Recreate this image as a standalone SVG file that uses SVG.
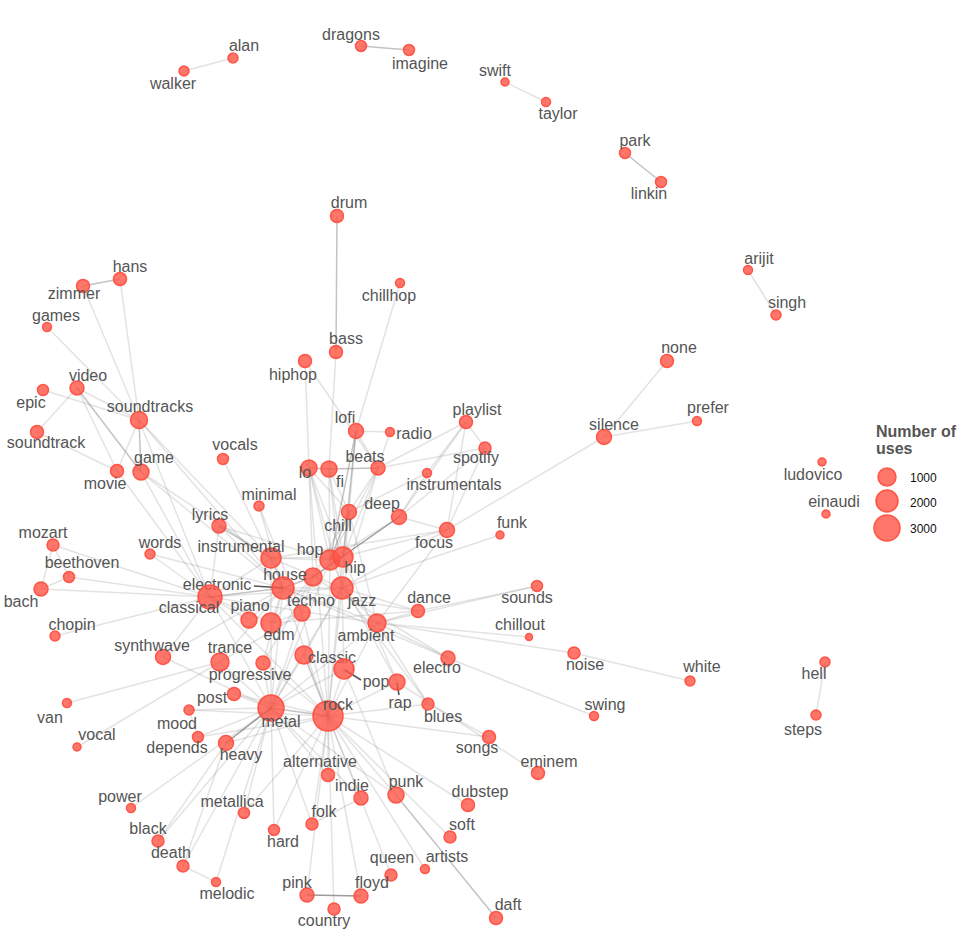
<svg xmlns="http://www.w3.org/2000/svg" width="962" height="944" viewBox="0 0 962 944">
<style>
.l{stroke:#999;stroke-opacity:0.28;stroke-width:1.5;fill:none}
.m{stroke:#888;stroke-opacity:0.5;stroke-width:1.5;fill:none}
.d{stroke:#666;stroke-opacity:0.65;stroke-width:1.5;fill:none}
.k{stroke:#555;stroke-width:1.6;fill:none}
circle{fill:#ff5446;fill-opacity:0.8;stroke:#ff4a3c;stroke-width:1.5;stroke-opacity:0.9}
text{font-family:"Liberation Sans",Arial,sans-serif;font-size:16px;fill:#555;text-anchor:middle}
.lt{font-weight:bold;font-size:16px;text-anchor:start}
.ln{font-size:12px;fill:#111;text-anchor:start}
</style>
<rect width="962" height="944" fill="#fff"/>
<g id="connectors">
<g class="l">
<line x1="233" y1="58" x2="184" y2="71"/>
<line x1="505" y1="82" x2="546" y2="102"/>
<line x1="748" y1="270" x2="776" y2="315"/>
<line x1="825" y1="662" x2="816" y2="715"/>
<line x1="400" y1="283" x2="356" y2="431"/>
<line x1="120" y1="279" x2="139" y2="420"/>
<line x1="83" y1="286" x2="139" y2="420"/>
<line x1="47" y1="327" x2="139" y2="420"/>
<line x1="43" y1="390" x2="139" y2="420"/>
<line x1="77" y1="388" x2="139" y2="420"/>
<line x1="77" y1="388" x2="37" y2="432"/>
<line x1="77" y1="388" x2="117" y2="471"/>
<line x1="37" y1="432" x2="117" y2="471"/>
<line x1="139" y1="420" x2="117" y2="471"/>
<line x1="139" y1="420" x2="271" y2="558"/>
<line x1="139" y1="420" x2="210" y2="597"/>
<line x1="139" y1="420" x2="283" y2="588"/>
<line x1="141" y1="472" x2="271" y2="558"/>
<line x1="141" y1="472" x2="210" y2="597"/>
<line x1="117" y1="471" x2="210" y2="597"/>
<line x1="141" y1="472" x2="283" y2="588"/>
<line x1="223" y1="459" x2="271" y2="558"/>
<line x1="259" y1="506" x2="302" y2="613"/>
<line x1="259" y1="506" x2="283" y2="588"/>
<line x1="219" y1="526" x2="210" y2="597"/>
<line x1="219" y1="526" x2="283" y2="588"/>
<line x1="219" y1="526" x2="330" y2="560"/>
<line x1="150" y1="554" x2="283" y2="588"/>
<line x1="150" y1="554" x2="210" y2="597"/>
<line x1="53" y1="545" x2="41" y2="589"/>
<line x1="53" y1="545" x2="69" y2="577"/>
<line x1="41" y1="589" x2="69" y2="577"/>
<line x1="53" y1="545" x2="210" y2="597"/>
<line x1="69" y1="577" x2="210" y2="597"/>
<line x1="41" y1="589" x2="210" y2="597"/>
<line x1="55" y1="636" x2="210" y2="597"/>
<line x1="249" y1="620" x2="210" y2="597"/>
<line x1="271" y1="558" x2="210" y2="597"/>
<line x1="271" y1="558" x2="343" y2="557"/>
<line x1="271" y1="558" x2="330" y2="560"/>
<line x1="271" y1="558" x2="342" y2="588"/>
<line x1="271" y1="558" x2="271" y2="708"/>
<line x1="356" y1="431" x2="390" y2="432"/>
<line x1="356" y1="431" x2="349" y2="512"/>
<line x1="356" y1="431" x2="378" y2="468"/>
<line x1="390" y1="432" x2="378" y2="468"/>
<line x1="309" y1="468" x2="330" y2="560"/>
<line x1="309" y1="468" x2="343" y2="557"/>
<line x1="329" y1="469" x2="330" y2="560"/>
<line x1="329" y1="469" x2="343" y2="557"/>
<line x1="309" y1="468" x2="349" y2="512"/>
<line x1="329" y1="469" x2="349" y2="512"/>
<line x1="309" y1="468" x2="342" y2="588"/>
<line x1="329" y1="469" x2="342" y2="588"/>
<line x1="309" y1="468" x2="328" y2="716"/>
<line x1="309" y1="468" x2="313" y2="577"/>
<line x1="305" y1="361" x2="378" y2="468"/>
<line x1="305" y1="361" x2="309" y2="468"/>
<line x1="336" y1="352" x2="329" y2="469"/>
<line x1="378" y1="468" x2="466" y2="422"/>
<line x1="378" y1="468" x2="485" y2="448"/>
<line x1="378" y1="468" x2="330" y2="560"/>
<line x1="378" y1="468" x2="343" y2="557"/>
<line x1="378" y1="468" x2="349" y2="512"/>
<line x1="378" y1="468" x2="342" y2="588"/>
<line x1="466" y1="422" x2="485" y2="448"/>
<line x1="466" y1="422" x2="447" y2="530"/>
<line x1="466" y1="422" x2="427" y2="473"/>
<line x1="466" y1="422" x2="399" y2="517"/>
<line x1="485" y1="448" x2="447" y2="530"/>
<line x1="485" y1="448" x2="399" y2="517"/>
<line x1="427" y1="473" x2="399" y2="517"/>
<line x1="427" y1="473" x2="349" y2="512"/>
<line x1="399" y1="517" x2="447" y2="530"/>
<line x1="399" y1="517" x2="330" y2="560"/>
<line x1="447" y1="530" x2="330" y2="560"/>
<line x1="447" y1="530" x2="342" y2="588"/>
<line x1="447" y1="530" x2="271" y2="558"/>
<line x1="447" y1="530" x2="377" y2="623"/>
<line x1="604" y1="437" x2="667" y2="361"/>
<line x1="604" y1="437" x2="697" y2="421"/>
<line x1="604" y1="437" x2="447" y2="530"/>
<line x1="500" y1="535" x2="342" y2="588"/>
<line x1="349" y1="512" x2="313" y2="577"/>
<line x1="349" y1="512" x2="342" y2="588"/>
<line x1="349" y1="512" x2="377" y2="623"/>
<line x1="349" y1="512" x2="343" y2="557"/>
<line x1="343" y1="557" x2="397" y2="682"/>
<line x1="330" y1="560" x2="397" y2="682"/>
<line x1="343" y1="557" x2="328" y2="716"/>
<line x1="330" y1="560" x2="328" y2="716"/>
<line x1="330" y1="560" x2="271" y2="708"/>
<line x1="313" y1="577" x2="302" y2="613"/>
<line x1="313" y1="577" x2="271" y2="623"/>
<line x1="313" y1="577" x2="263" y2="663"/>
<line x1="283" y1="588" x2="271" y2="623"/>
<line x1="283" y1="588" x2="302" y2="613"/>
<line x1="283" y1="588" x2="418" y2="611"/>
<line x1="283" y1="588" x2="220" y2="662"/>
<line x1="283" y1="588" x2="163" y2="657"/>
<line x1="283" y1="588" x2="263" y2="663"/>
<line x1="283" y1="588" x2="377" y2="623"/>
<line x1="283" y1="588" x2="328" y2="716"/>
<line x1="283" y1="588" x2="271" y2="708"/>
<line x1="283" y1="588" x2="249" y2="620"/>
<line x1="283" y1="588" x2="342" y2="588"/>
<line x1="283" y1="588" x2="448" y2="658"/>
<line x1="210" y1="597" x2="342" y2="588"/>
<line x1="210" y1="597" x2="328" y2="716"/>
<line x1="210" y1="597" x2="271" y2="708"/>
<line x1="210" y1="597" x2="163" y2="657"/>
<line x1="210" y1="597" x2="271" y2="623"/>
<line x1="210" y1="597" x2="377" y2="623"/>
<line x1="342" y1="588" x2="428" y2="704"/>
<line x1="342" y1="588" x2="328" y2="716"/>
<line x1="342" y1="588" x2="377" y2="623"/>
<line x1="342" y1="588" x2="271" y2="708"/>
<line x1="342" y1="588" x2="344" y2="669"/>
<line x1="342" y1="588" x2="418" y2="611"/>
<line x1="342" y1="588" x2="304" y2="655"/>
<line x1="302" y1="613" x2="271" y2="623"/>
<line x1="302" y1="613" x2="220" y2="662"/>
<line x1="302" y1="613" x2="328" y2="716"/>
<line x1="302" y1="613" x2="271" y2="708"/>
<line x1="377" y1="623" x2="529" y2="637"/>
<line x1="377" y1="623" x2="574" y2="653"/>
<line x1="377" y1="623" x2="418" y2="611"/>
<line x1="377" y1="623" x2="448" y2="658"/>
<line x1="377" y1="623" x2="537" y2="586"/>
<line x1="377" y1="623" x2="328" y2="716"/>
<line x1="377" y1="623" x2="271" y2="708"/>
<line x1="377" y1="623" x2="428" y2="704"/>
<line x1="418" y1="611" x2="537" y2="586"/>
<line x1="418" y1="611" x2="271" y2="623"/>
<line x1="448" y1="658" x2="594" y2="716"/>
<line x1="448" y1="658" x2="313" y2="577"/>
<line x1="344" y1="669" x2="328" y2="716"/>
<line x1="344" y1="669" x2="396" y2="795"/>
<line x1="344" y1="669" x2="271" y2="708"/>
<line x1="304" y1="655" x2="271" y2="708"/>
<line x1="263" y1="663" x2="328" y2="716"/>
<line x1="263" y1="663" x2="271" y2="708"/>
<line x1="271" y1="708" x2="234" y2="694"/>
<line x1="271" y1="708" x2="183" y2="866"/>
<line x1="271" y1="708" x2="158" y2="841"/>
<line x1="271" y1="708" x2="216" y2="882"/>
<line x1="271" y1="708" x2="131" y2="808"/>
<line x1="271" y1="708" x2="244" y2="813"/>
<line x1="271" y1="708" x2="189" y2="710"/>
<line x1="271" y1="708" x2="198" y2="737"/>
<line x1="271" y1="708" x2="274" y2="830"/>
<line x1="271" y1="708" x2="328" y2="775"/>
<line x1="271" y1="708" x2="396" y2="795"/>
<line x1="271" y1="708" x2="312" y2="824"/>
<line x1="271" y1="708" x2="361" y2="798"/>
<line x1="271" y1="708" x2="220" y2="662"/>
<line x1="271" y1="708" x2="163" y2="657"/>
<line x1="328" y1="716" x2="328" y2="775"/>
<line x1="328" y1="716" x2="361" y2="798"/>
<line x1="328" y1="716" x2="396" y2="795"/>
<line x1="328" y1="716" x2="312" y2="824"/>
<line x1="328" y1="716" x2="274" y2="830"/>
<line x1="328" y1="716" x2="334" y2="909"/>
<line x1="328" y1="716" x2="391" y2="875"/>
<line x1="328" y1="716" x2="361" y2="896"/>
<line x1="328" y1="716" x2="307" y2="895"/>
<line x1="328" y1="716" x2="450" y2="837"/>
<line x1="328" y1="716" x2="468" y2="805"/>
<line x1="328" y1="716" x2="425" y2="869"/>
<line x1="328" y1="716" x2="428" y2="704"/>
<line x1="328" y1="716" x2="234" y2="694"/>
<line x1="328" y1="716" x2="226" y2="743"/>
<line x1="328" y1="716" x2="244" y2="813"/>
<line x1="328" y1="716" x2="189" y2="710"/>
<line x1="328" y1="716" x2="489" y2="737"/>
<line x1="328" y1="716" x2="397" y2="682"/>
<line x1="328" y1="716" x2="198" y2="737"/>
<line x1="226" y1="743" x2="183" y2="866"/>
<line x1="226" y1="743" x2="158" y2="841"/>
<line x1="183" y1="866" x2="216" y2="882"/>
<line x1="361" y1="798" x2="312" y2="824"/>
<line x1="428" y1="704" x2="489" y2="737"/>
<line x1="397" y1="682" x2="538" y2="773"/>
<line x1="189" y1="710" x2="198" y2="737"/>
<line x1="67" y1="703" x2="220" y2="662"/>
<line x1="77" y1="747" x2="220" y2="662"/>
<line x1="574" y1="653" x2="690" y2="681"/>
</g>
<g class="m">
<line x1="361" y1="46" x2="409" y2="50"/>
<line x1="625" y1="153" x2="661" y2="182"/>
<line x1="337" y1="216" x2="336" y2="352"/>
<line x1="120" y1="279" x2="83" y2="286"/>
<line x1="139" y1="420" x2="141" y2="472"/>
<line x1="77" y1="388" x2="141" y2="472"/>
<line x1="309" y1="468" x2="329" y2="469"/>
<line x1="329" y1="469" x2="378" y2="468"/>
<line x1="356" y1="431" x2="343" y2="557"/>
<line x1="356" y1="431" x2="330" y2="560"/>
<line x1="349" y1="512" x2="330" y2="560"/>
<line x1="343" y1="557" x2="330" y2="560"/>
<line x1="283" y1="588" x2="210" y2="597"/>
<line x1="283" y1="588" x2="313" y2="577"/>
<line x1="271" y1="558" x2="283" y2="588"/>
<line x1="271" y1="708" x2="328" y2="716"/>
<line x1="304" y1="655" x2="328" y2="716"/>
<line x1="396" y1="795" x2="496" y2="918"/>
<line x1="219" y1="526" x2="271" y2="558"/>
</g>
<g class="d">
<line x1="226" y1="743" x2="271" y2="708"/>
<line x1="307" y1="895" x2="361" y2="896"/>
<line x1="399" y1="517" x2="313" y2="577"/>
</g>
</g>
<g id="leaders" class="k">
<line x1="254" y1="586" x2="283" y2="588"/>
<line x1="345" y1="670" x2="361" y2="680"/>
<line x1="397" y1="683" x2="399" y2="695"/>
</g>
<g id="nodes">
<g id="n-alan"><circle cx="233" cy="58" r="5"/><text x="244" y="51">alan</text></g>
<g id="n-walker"><circle cx="184" cy="71" r="5"/><text x="173" y="89">walker</text></g>
<g id="n-dragons"><circle cx="361" cy="46" r="5.5"/><text x="351" y="40">dragons</text></g>
<g id="n-imagine"><circle cx="409" cy="50" r="5.5"/><text x="420" y="69">imagine</text></g>
<g id="n-swift"><circle cx="505" cy="82" r="4"/><text x="495" y="76">swift</text></g>
<g id="n-taylor"><circle cx="546" cy="102" r="4.5"/><text x="558" y="119">taylor</text></g>
<g id="n-park"><circle cx="625" cy="153" r="5.5"/><text x="635" y="146">park</text></g>
<g id="n-linkin"><circle cx="661" cy="182" r="5.5"/><text x="649" y="199">linkin</text></g>
<g id="n-drum"><circle cx="337" cy="216" r="6.5"/><text x="349" y="208">drum</text></g>
<g id="n-chillhop"><circle cx="400" cy="283" r="4.5"/><text x="389" y="301">chillhop</text></g>
<g id="n-arijit"><circle cx="748" cy="270" r="4.5"/><text x="759" y="264">arijit</text></g>
<g id="n-singh"><circle cx="776" cy="315" r="5"/><text x="787" y="308">singh</text></g>
<g id="n-hans"><circle cx="120" cy="279" r="6.5"/><text x="130" y="272">hans</text></g>
<g id="n-zimmer"><circle cx="83" cy="286" r="6.5"/><text x="74" y="299">zimmer</text></g>
<g id="n-games"><circle cx="47" cy="327" r="4.5"/><text x="56" y="321">games</text></g>
<g id="n-bass"><circle cx="336" cy="352" r="6.5"/><text x="346" y="344">bass</text></g>
<g id="n-hiphop"><circle cx="305" cy="361" r="6.5"/><text x="293" y="380">hiphop</text></g>
<g id="n-none"><circle cx="667" cy="361" r="6.5"/><text x="679" y="353">none</text></g>
<g id="n-prefer"><circle cx="697" cy="421" r="4.5"/><text x="708" y="413">prefer</text></g>
<g id="n-silence"><circle cx="604" cy="437" r="7.5"/><text x="614" y="430">silence</text></g>
<g id="n-video"><circle cx="77" cy="388" r="7"/><text x="88" y="381">video</text></g>
<g id="n-epic"><circle cx="43" cy="390" r="5.5"/><text x="31" y="408">epic</text></g>
<g id="n-soundtracks"><circle cx="139" cy="420" r="8.5"/><text x="150" y="412">soundtracks</text></g>
<g id="n-soundtrack"><circle cx="37" cy="432" r="6.5"/><text x="46" y="448">soundtrack</text></g>
<g id="n-lofi"><circle cx="356" cy="431" r="7.5"/><text x="345" y="423">lofi</text></g>
<g id="n-radio"><circle cx="390" cy="432" r="4.5"/><text x="414" y="439">radio</text></g>
<g id="n-playlist"><circle cx="466" cy="422" r="6.5"/><text x="477" y="415">playlist</text></g>
<g id="n-spotify"><circle cx="485" cy="448" r="6"/><text x="476" y="463">spotify</text></g>
<g id="n-vocals"><circle cx="223" cy="459" r="5.5"/><text x="235" y="450">vocals</text></g>
<g id="n-lo"><circle cx="309" cy="468" r="8"/><text x="305" y="478">lo</text></g>
<g id="n-fi"><circle cx="329" cy="469" r="8"/><text x="340" y="487">fi</text></g>
<g id="n-beats"><circle cx="378" cy="468" r="7"/><text x="365" y="462">beats</text></g>
<g id="n-instrumentals"><circle cx="427" cy="473" r="4.5"/><text x="454" y="490">instrumentals</text></g>
<g id="n-game"><circle cx="141" cy="472" r="8"/><text x="154" y="463">game</text></g>
<g id="n-movie"><circle cx="117" cy="471" r="6.5"/><text x="105" y="489">movie</text></g>
<g id="n-minimal"><circle cx="259" cy="506" r="5"/><text x="269" y="500">minimal</text></g>
<g id="n-chill"><circle cx="349" cy="512" r="7.5"/><text x="338" y="531">chill</text></g>
<g id="n-deep"><circle cx="399" cy="517" r="7.5"/><text x="382" y="509">deep</text></g>
<g id="n-focus"><circle cx="447" cy="530" r="7.5"/><text x="434" y="548">focus</text></g>
<g id="n-funk"><circle cx="500" cy="535" r="4"/><text x="512" y="528">funk</text></g>
<g id="n-lyrics"><circle cx="219" cy="526" r="7"/><text x="210" y="520">lyrics</text></g>
<g id="n-mozart"><circle cx="53" cy="545" r="6"/><text x="43" y="538">mozart</text></g>
<g id="n-words"><circle cx="150" cy="554" r="5"/><text x="160" y="548">words</text></g>
<g id="n-beethoven"><circle cx="69" cy="577" r="5.5"/><text x="82" y="568">beethoven</text></g>
<g id="n-bach"><circle cx="41" cy="589" r="7"/><text x="21" y="607">bach</text></g>
<g id="n-chopin"><circle cx="55" cy="636" r="5"/><text x="72" y="630">chopin</text></g>
<g id="n-instrumental"><circle cx="271" cy="558" r="10"/><text x="241" y="552">instrumental</text></g>
<g id="n-hop"><circle cx="330" cy="560" r="10"/><text x="310" y="555">hop</text></g>
<g id="n-hip"><circle cx="343" cy="557" r="10"/><text x="355" y="573">hip</text></g>
<g id="n-house"><circle cx="313" cy="577" r="9"/><text x="285" y="580">house</text></g>
<g id="n-electronic"><circle cx="283" cy="588" r="11"/><text x="217" y="590">electronic</text></g>
<g id="n-classical"><circle cx="210" cy="597" r="12"/><text x="189" y="613">classical</text></g>
<g id="n-jazz"><circle cx="342" cy="588" r="11"/><text x="362" y="606">jazz</text></g>
<g id="n-techno"><circle cx="302" cy="613" r="8"/><text x="311" y="606">techno</text></g>
<g id="n-piano"><circle cx="249" cy="620" r="8"/><text x="250" y="611">piano</text></g>
<g id="n-edm"><circle cx="271" cy="623" r="10"/><text x="279" y="640">edm</text></g>
<g id="n-ambient"><circle cx="377" cy="623" r="9"/><text x="366" y="641">ambient</text></g>
<g id="n-dance"><circle cx="418" cy="611" r="6.5"/><text x="429" y="603">dance</text></g>
<g id="n-sounds"><circle cx="537" cy="586" r="5.5"/><text x="527" y="603">sounds</text></g>
<g id="n-chillout"><circle cx="529" cy="637" r="3.5"/><text x="520" y="630">chillout</text></g>
<g id="n-noise"><circle cx="574" cy="653" r="6"/><text x="585" y="670">noise</text></g>
<g id="n-white"><circle cx="690" cy="681" r="5"/><text x="702" y="672">white</text></g>
<g id="n-synthwave"><circle cx="163" cy="657" r="7.5"/><text x="152" y="651">synthwave</text></g>
<g id="n-trance"><circle cx="220" cy="662" r="9"/><text x="230" y="653">trance</text></g>
<g id="n-progressive"><circle cx="263" cy="663" r="7"/><text x="250" y="680">progressive</text></g>
<g id="n-classic"><circle cx="304" cy="655" r="9"/><text x="332" y="663">classic</text></g>
<g id="n-pop"><circle cx="344" cy="669" r="10"/><text x="376" y="687">pop</text></g>
<g id="n-electro"><circle cx="448" cy="658" r="7"/><text x="437" y="673">electro</text></g>
<g id="n-rap"><circle cx="397" cy="682" r="8"/><text x="400" y="708">rap</text></g>
<g id="n-blues"><circle cx="428" cy="704" r="6"/><text x="443" y="722">blues</text></g>
<g id="n-post"><circle cx="234" cy="694" r="6.5"/><text x="212" y="703">post</text></g>
<g id="n-swing"><circle cx="594" cy="716" r="4.5"/><text x="605" y="710">swing</text></g>
<g id="n-van"><circle cx="67" cy="703" r="4.5"/><text x="50" y="723">van</text></g>
<g id="n-mood"><circle cx="189" cy="710" r="5"/><text x="177" y="729">mood</text></g>
<g id="n-metal"><circle cx="271" cy="708" r="13"/><text x="281" y="727">metal</text></g>
<g id="n-rock"><circle cx="328" cy="716" r="15"/><text x="338" y="710">rock</text></g>
<g id="n-songs"><circle cx="489" cy="737" r="6.5"/><text x="477" y="753">songs</text></g>
<g id="n-depends"><circle cx="198" cy="737" r="5.5"/><text x="177" y="753">depends</text></g>
<g id="n-heavy"><circle cx="226" cy="743" r="7.5"/><text x="241" y="760">heavy</text></g>
<g id="n-vocal"><circle cx="77" cy="747" r="4"/><text x="97" y="740">vocal</text></g>
<g id="n-eminem"><circle cx="538" cy="773" r="6.5"/><text x="549" y="767">eminem</text></g>
<g id="n-alternative"><circle cx="328" cy="775" r="6.5"/><text x="320" y="767">alternative</text></g>
<g id="n-indie"><circle cx="361" cy="798" r="7"/><text x="352" y="791">indie</text></g>
<g id="n-punk"><circle cx="396" cy="795" r="8"/><text x="406" y="787">punk</text></g>
<g id="n-dubstep"><circle cx="468" cy="805" r="6.5"/><text x="480" y="797">dubstep</text></g>
<g id="n-power"><circle cx="131" cy="808" r="4.5"/><text x="120" y="802">power</text></g>
<g id="n-metallica"><circle cx="244" cy="813" r="5.5"/><text x="232" y="807">metallica</text></g>
<g id="n-folk"><circle cx="312" cy="824" r="6"/><text x="324" y="817">folk</text></g>
<g id="n-hard"><circle cx="274" cy="830" r="5.5"/><text x="283" y="847">hard</text></g>
<g id="n-soft"><circle cx="450" cy="837" r="6"/><text x="462" y="830">soft</text></g>
<g id="n-black"><circle cx="158" cy="841" r="6"/><text x="148" y="834">black</text></g>
<g id="n-death"><circle cx="183" cy="866" r="6"/><text x="171" y="858">death</text></g>
<g id="n-artists"><circle cx="425" cy="869" r="4.5"/><text x="447" y="862">artists</text></g>
<g id="n-queen"><circle cx="391" cy="875" r="6"/><text x="392" y="863">queen</text></g>
<g id="n-melodic"><circle cx="216" cy="882" r="4.5"/><text x="227" y="899">melodic</text></g>
<g id="n-pink"><circle cx="307" cy="895" r="7"/><text x="297" y="888">pink</text></g>
<g id="n-floyd"><circle cx="361" cy="896" r="7"/><text x="372" y="888">floyd</text></g>
<g id="n-country"><circle cx="334" cy="909" r="6"/><text x="324" y="926">country</text></g>
<g id="n-daft"><circle cx="496" cy="918" r="6.5"/><text x="508" y="910">daft</text></g>
<g id="n-hell"><circle cx="825" cy="662" r="5"/><text x="814" y="679">hell</text></g>
<g id="n-steps"><circle cx="816" cy="715" r="5"/><text x="803" y="735">steps</text></g>
<g id="n-ludovico"><circle cx="822" cy="462" r="4"/><text x="813" y="480">ludovico</text></g>
<g id="n-einaudi"><circle cx="826" cy="514" r="4"/><text x="834" y="507">einaudi</text></g>
</g>
<g id="legend">
<text class="lt" x="876" y="437">Number of</text>
<text class="lt" x="876" y="454">uses</text>
<circle cx="887" cy="477" r="9"/>
<circle cx="887" cy="501" r="11"/>
<circle cx="887" cy="528" r="13"/>
<text class="ln" x="910" y="482">1000</text>
<text class="ln" x="910" y="507">2000</text>
<text class="ln" x="910" y="533">3000</text>
</g>
</svg>
